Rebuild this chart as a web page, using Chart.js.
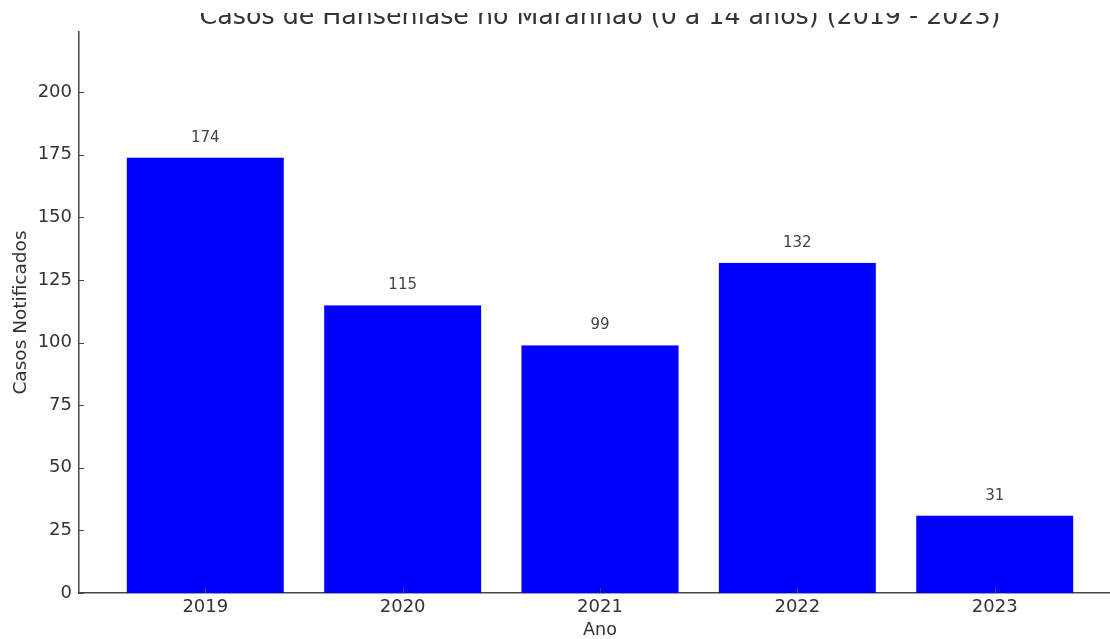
<!DOCTYPE html>
<html>
<head>
<meta charset="utf-8">
<script src="https://cdn.jsdelivr.net/npm/chart.js@4"></script>
<style>
  html, body { margin: 0; padding: 0; background: #fff; overflow: hidden; }
  #wrap { width: 1130px; height: 639px; }
</style>
</head>
<body>
<div id="wrap"><canvas id="chart"></canvas></div>
<script>
// dados
const anos = [2019, 2020, 2021, 2022, 2023];
const casos = [174, 115, 99, 132, 31];
const yTicks = [0, 25, 50, 75, 100, 125, 150, 175, 200];

const tituloGrafico = 'Casos de Hanseníase no Maranhão (0 a 14 anos) (2019 - 2023)';
const fonte = "'DejaVu Sans', sans-serif";
const corTexto = '#333';

// titulo (cortado no topo, como na imagem original)
const tituloPlugin = {
  id: 'titulo',
  afterDraw(chart) {
    const ctx = chart.ctx;
    ctx.save();
    ctx.beginPath();
    ctx.rect(0, 13, chart.width, 20);
    ctx.clip();
    ctx.font = '25.3px ' + fonte;
    ctx.fillStyle = corTexto;
    ctx.textAlign = 'center';
    ctx.textBaseline = 'alphabetic';
    ctx.fillText(tituloGrafico, 600, 24);
    ctx.restore();
  }
};

// rótulos de valor acima das barras
const valoresPlugin = {
  id: 'valores',
  afterDatasetsDraw(chart) {
    const ctx = chart.ctx;
    const meta = chart.getDatasetMeta(0);
    ctx.save();
    ctx.font = '15px ' + fonte;
    ctx.fillStyle = '#444';
    ctx.textAlign = 'center';
    ctx.textBaseline = 'bottom';
    meta.data.forEach((bar, i) => {
      ctx.fillText(String(casos[i]), bar.x, bar.y - 12);
    });
    ctx.restore();
  }
};

// marcas de escala para dentro (estilo matplotlib)
const marcasPlugin = {
  id: 'marcas',
  afterDraw(chart) {
    const ctx = chart.ctx;
    const { x, y } = chart.scales;
    const area = chart.chartArea;
    ctx.save();
    ctx.strokeStyle = '#444';
    ctx.lineWidth = 1;
    ctx.beginPath();
    y.ticks.forEach(t => {
      const py = Math.round(y.getPixelForValue(t.value)) + 0.5;
      ctx.moveTo(area.left, py);
      ctx.lineTo(area.left + 5, py);
    });
    x.ticks.forEach(t => {
      const px = Math.round(x.getPixelForValue(t.value)) + 0.5;
      ctx.moveTo(px, area.bottom);
      ctx.lineTo(px, area.bottom - 5);
    });
    ctx.stroke();
    ctx.restore();
  }
};

new Chart(document.getElementById('chart'), {
  type: 'bar',
  data: {
    datasets: [{
      data: anos.map((a, i) => ({ x: a, y: casos[i] })),
      backgroundColor: '#0000ff',
      borderColor: 'rgba(120,120,255,0.6)',
      borderWidth: 0.5,
      barPercentage: 0.8,
      categoryPercentage: 1.0,
    }]
  },
  options: {
    responsive: true,
    maintainAspectRatio: false,
    animation: false,
    layout: { padding: { top: 32, right: 9, left: 0, bottom: 0 } },
    plugins: { legend: { display: false }, tooltip: { enabled: false } },
    scales: {
      x: {
        type: 'linear',
        offset: false,
        min: 2018.36,
        max: 2023.64,
        grid: { display: false, drawTicks: false, offset: false },
        border: { display: true, color: '#444', width: 1.5 },
        afterBuildTicks: s => { s.ticks = anos.map(v => ({ value: v })); },
        afterFit: s => { s.height = 46; },
        ticks: {
          font: { family: fonte, size: 18 }, color: corTexto, padding: 4,
          callback: v => String(v),
        },
        title: { display: true, text: 'Ano', font: { family: fonte, size: 17.5 }, color: corTexto, padding: { top: 0, bottom: -2 } },
      },
      y: {
        min: 0,
        max: 224,
        grid: { display: false, drawTicks: false },
        border: { display: true, color: '#444', width: 1.5 },
        afterBuildTicks: s => { s.ticks = yTicks.map(v => ({ value: v })); },
        afterFit: s => { s.width = 79; },
        ticks: { font: { family: fonte, size: 18 }, color: corTexto, padding: 7 },
        title: { display: true, text: 'Casos Notificados', font: { family: fonte, size: 18.5 }, color: corTexto, padding: { top: 10, bottom: 0 } },
      }
    }
  },
  plugins: [tituloPlugin, valoresPlugin, marcasPlugin]
});
</script>
</body>
</html>
